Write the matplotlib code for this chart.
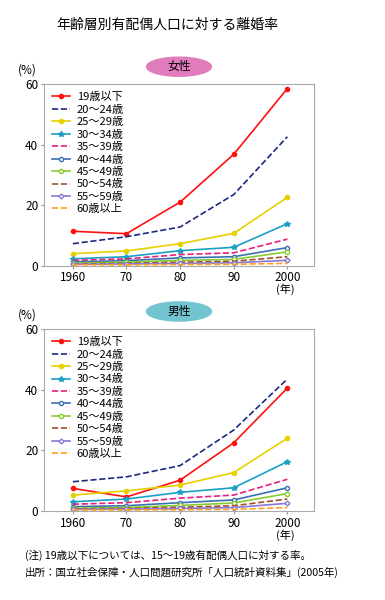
import matplotlib.pyplot as plt
from matplotlib.patches import Ellipse

plt.rcParams['font.family'] = ['Noto Sans CJK JP', 'DejaVu Sans']

years = [1960, 1970, 1980, 1990, 2000]
labels = ['19歳以下', '20～24歳', '25～29歳', '30～34歳', '35～39歳',
          '40～44歳', '45～49歳', '50～54歳', '55～59歳', '60歳以上']

female = [
    [11.4, 10.6, 21.0, 36.8, 58.5],
    [7.3, 9.6, 12.8, 23.5, 42.6],
    [4.0, 4.9, 7.3, 10.7, 22.6],
    [2.3, 3.0, 5.0, 6.1, 13.9],
    [1.8, 2.3, 3.7, 4.3, 8.8],
    [1.3, 1.7, 2.6, 3.0, 6.0],
    [0.9, 1.2, 1.8, 2.1, 4.6],
    [0.6, 0.8, 1.2, 1.5, 3.0],
    [0.5, 0.6, 0.8, 1.0, 1.8],
    [0.3, 0.3, 0.4, 0.5, 0.8],
]
male = [
    [7.5, 4.7, 10.2, 22.5, 40.5],
    [9.7, 11.3, 15.0, 26.7, 43.5],
    [5.3, 6.7, 8.6, 12.7, 24.0],
    [3.1, 4.0, 6.2, 7.7, 16.3],
    [2.3, 2.8, 4.3, 5.3, 10.5],
    [1.5, 1.8, 2.8, 3.7, 7.7],
    [1.0, 1.2, 1.9, 2.7, 5.8],
    [0.8, 0.9, 1.3, 1.8, 4.0],
    [0.6, 0.7, 0.9, 1.2, 2.6],
    [0.4, 0.4, 0.5, 0.6, 1.2],
]

styles = [
    dict(color='#ff1010', ls='-', marker='o', ms=3, mfc='#ff1010'),
    dict(color='#1c2a80', ls='--', marker=None),
    dict(color='#e8d000', ls='-', marker='o', ms=3, mfc='#e8d000'),
    dict(color='#1aa0c4', ls='-', marker='*', ms=4, mfc='#1aa0c4'),
    dict(color='#e6207e', ls='--', marker=None),
    dict(color='#3a70b0', ls='-', marker='o', ms=3, mfc='white'),
    dict(color='#88cc30', ls='-', marker='o', ms=3, mfc='white'),
    dict(color='#a0522d', ls='--', marker=None),
    dict(color='#8878d0', ls='-', marker='D', ms=2.5, mfc='white'),
    dict(color='#ffa020', ls='--', marker=None),
]

fig = plt.figure(figsize=(3.85, 6.0), dpi=100)
fig.text(0.435, 0.958, '年齢層別有配偶人口に対する離婚率', ha='center', va='center', fontsize=10)


def draw(ax, data, badge, badge_color):
    for vals, lab, st in zip(data, labels, styles):
        ax.plot(years, vals, label=lab, lw=1.2, **st)
    ax.set_xlim(1954.6, 2005)
    ax.set_ylim(0, 60)
    ax.set_yticks([0, 20, 40, 60])
    ax.set_xticks(years)
    ax.set_xticklabels(['1960', '70', '80', '90', '2000'])
    ax.tick_params(labelsize=8.5, length=2, color='#999999', pad=2)
    for s in ax.spines.values():
        s.set_color('#aaaaaa')
    ax.text(-0.06, 1.04, '(%)', transform=ax.transAxes, ha='center', va='bottom', fontsize=8.5)
    ax.text(0.895, -0.1, '(年)', transform=ax.transAxes, ha='center', va='top', fontsize=8)
    ax.legend(loc='upper left', frameon=False, fontsize=8, handlelength=1.6,
              labelspacing=0.22, borderaxespad=0.35, handletextpad=0.6)
    e = Ellipse((0.5, 1.095), 0.24, 0.105, transform=ax.transAxes, color=badge_color,
                clip_on=False)
    ax.add_patch(e)
    ax.text(0.5, 1.095, badge, transform=ax.transAxes, ha='center', va='center', fontsize=8.5)


ax1 = fig.add_axes([0.114, 0.557, 0.702, 0.303])
draw(ax1, female, '女性', '#e07cbc')
ax2 = fig.add_axes([0.114, 0.148, 0.702, 0.304])
draw(ax2, male, '男性', '#72c4d0')

fig.text(0.065, 0.068, '(注) 19歳以下については、15～19歳有配偶人口に対する率。', fontsize=7.6)
fig.text(0.065, 0.041, '出所：国立社会保障・人口問題研究所「人口統計資料集」(2005年)', fontsize=7.6)

plt.savefig('out.png', dpi=100)
